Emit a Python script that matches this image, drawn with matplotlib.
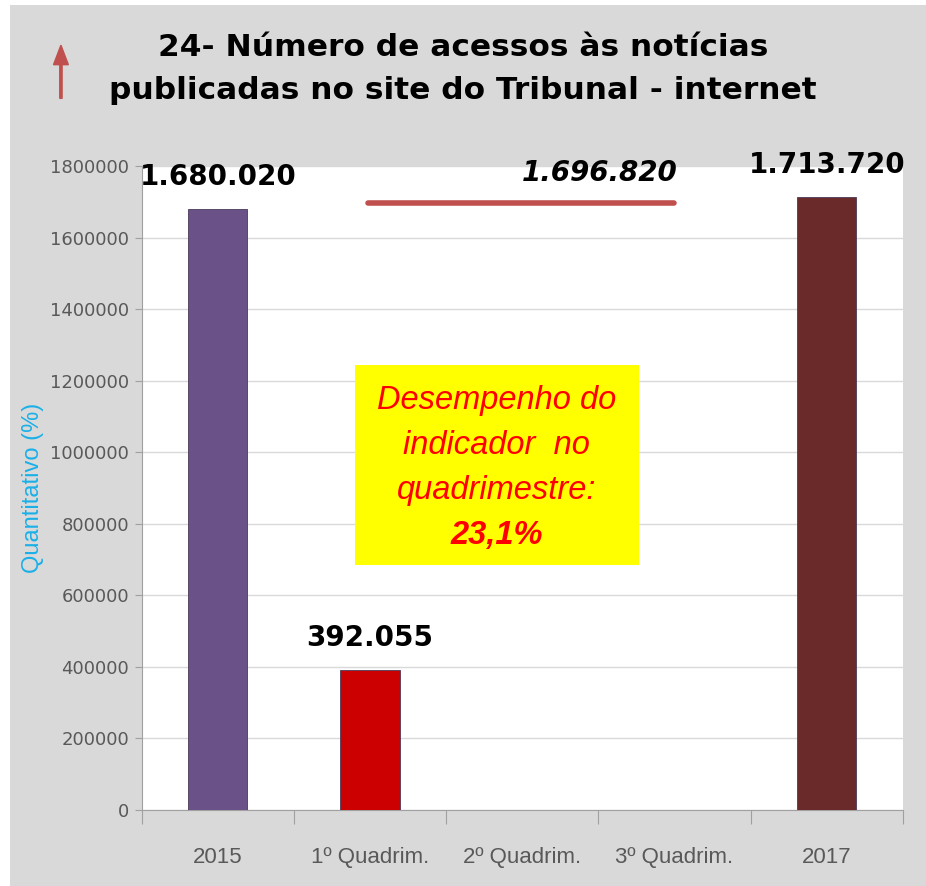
import numpy as np
import matplotlib.pyplot as plt
from matplotlib.patches import FancyArrow

categories = ["2015", "1º Quadrim.", "2º Quadrim.", "3º Quadrim.", "2017"]
values = [1680020, 392055, 0, 0, 1713720]
labels = ["1.680.020", "392.055", "", "", "1.713.720"]
colors = ["#6a5289", "#cc0000", "#cc0000", "#cc0000", "#6b2a2a"]
average = 1696820
average_label = "1.696.820"
yticks = np.arange(0, 1800001, 200000)
box_lines = ["Desempenho do", "indicador  no", "quadrimestre:"]
box_result = "23,1%"

fig = plt.figure(figsize=(9.26, 8.86), dpi=100)
fig.patch.set_facecolor("white")
# gray panel behind everything
fig.patches.append(plt.Rectangle((0.011, 0.0), 0.989, 0.994, transform=fig.transFigure,
                                 facecolor="#d9d9d9", edgecolor="none", zorder=-10))

ax = fig.add_axes([0.153, 0.0858, 0.822, 0.7268])
ax.set_facecolor("white")
x = np.arange(len(categories))
idx = [i for i, v in enumerate(values) if v > 0]
ax.bar(x[idx], [values[i] for i in idx], width=0.39,
       color=[colors[i] for i in idx], edgecolor="#4a3a5a", linewidth=0.6, zorder=3)

ax.set_xlim(-0.5, 4.5)
ax.set_ylim(0, 1800000)
ax.set_yticks(yticks)
ax.set_yticklabels([str(v) for v in yticks], fontsize=13, color="#595959", family="DejaVu Sans")
ax.grid(axis="y", color="#d9d9d9", linewidth=1, zorder=0)
ax.set_xticks(np.arange(-0.5, 5, 1))
ax.set_xticklabels([])
ax.set_xticks(x, minor=True)
ax.set_xticklabels(categories, minor=True, fontsize=16, color="#595959",
                   family="Liberation Sans")
ax.tick_params(axis="x", which="major", length=10, color="#a0a0a0")
ax.tick_params(axis="x", which="minor", length=0, pad=27)
ax.tick_params(axis="y", length=5, color="#a0a0a0", pad=4)
for s in ["top", "right"]:
    ax.spines[s].set_visible(False)
ax.spines["left"].set_color("#a0a0a0")
ax.spines["bottom"].set_color("#a0a0a0")

for i in idx:
    ax.text(x[i], values[i] + 50000, labels[i], ha="center", va="bottom",
            fontsize=20, fontweight="bold", family="DejaVu Sans", color="black", zorder=5)

ax.plot([0.985, 3.0], [average, average], color="#c0504d", linewidth=4,
        solid_capstyle="round", zorder=4)
ax.text(3.02, average + 45000, average_label, ha="right", va="bottom",
        fontsize=20, fontweight="bold", style="italic", family="DejaVu Sans", zorder=5)

ax.add_patch(plt.Rectangle((0.90, 684000), 1.87, 559000, facecolor="#ffff00",
                           edgecolor="none", zorder=4))
for k, line in enumerate(box_lines):
    ax.text(1.83, 1146000 - k * 126000, line, ha="center", va="center",
            fontsize=23.5, style="italic", color="#ff0000", family="Liberation Sans", zorder=5)
ax.text(1.83, 768000, box_result, ha="center", va="center", fontsize=23.5, style="italic",
        fontweight="bold", color="#ff0000", family="Liberation Sans", zorder=5)

ax.set_ylabel("Quantitativo (%)", color="#1ab0e8", fontsize=17, family="Liberation Sans")
ax.yaxis.set_label_coords(-0.128, 0.5)

fig.text(0.5, 0.922, "24- Número de acessos às notícias\npublicadas no site do Tribunal - internet",
         ha="center", va="center", fontsize=22.5, fontweight="bold",
         family="DejaVu Sans", linespacing=1.6)
fig.patches.append(FancyArrow(0.0658, 0.889, 0, 0.06, width=0.0025, head_width=0.016,
                              head_length=0.022, length_includes_head=True,
                              transform=fig.transFigure, color="#c0504d"))

fig.savefig("out.png", dpi=100)
